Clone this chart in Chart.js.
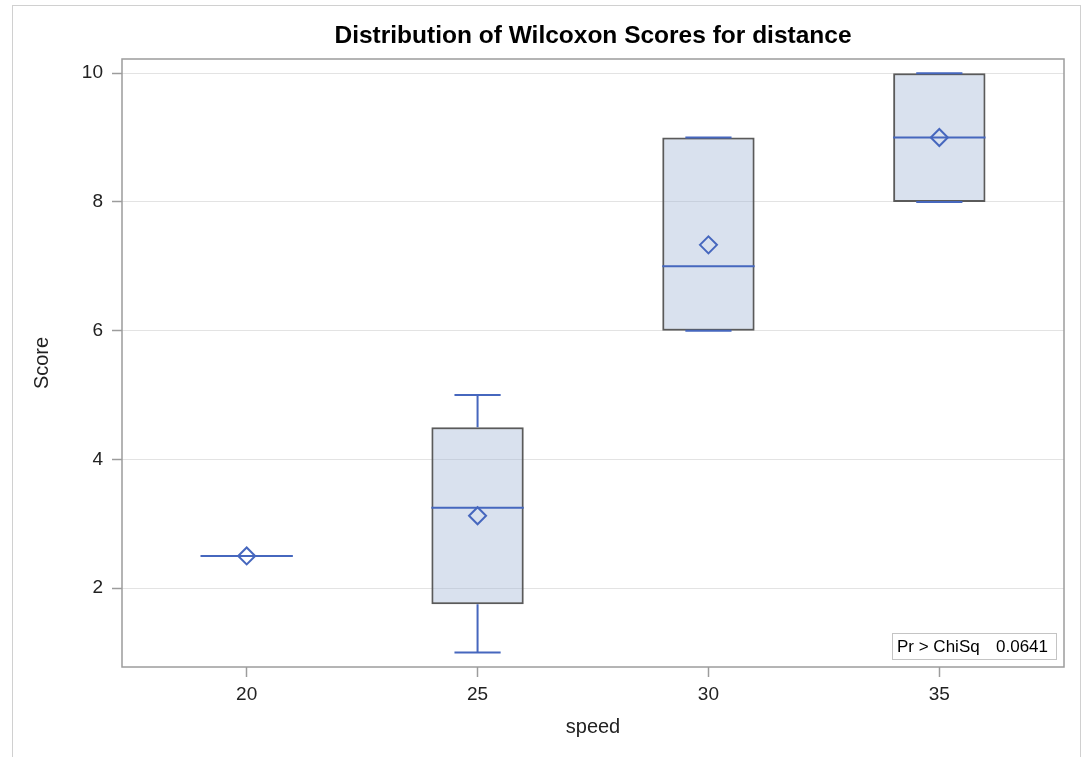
<!DOCTYPE html>
<html>
<head>
<meta charset="utf-8">
<script src="https://cdn.jsdelivr.net/npm/chart.js@4"></script>
<style>
  html, body { margin: 0; padding: 0; background: #fff; }
  #wrap { width: 1084px; height: 757px; position: relative; }
</style>
</head>
<body>
<div id="wrap"><canvas id="chart"></canvas></div>
<script>
// Wilcoxon scores per speed group
const speeds = [20, 25, 30, 35];
const q1 = [2.5, 1.75, 6, 8];
const q3 = [2.5, 4.5, 9, 10];
const medians = [2.5, 3.25, 7, 9];
const means = [2.5, 3.125, 7.333, 9];
const whiskerLow = [2.5, 1, 6, 8];
const whiskerHigh = [2.5, 5, 9, 10];

const xTicks = [20, 25, 30, 35];
const yTicks = [2, 4, 6, 8, 10];

const titleText = 'Distribution of Wilcoxon Scores for distance';
const insetLabel = 'Pr > ChiSq';
const insetValue = '0.0641';

const FONT = '"Liberation Sans", Arial, sans-serif';
const BLUE = '#4667be';
const BOX_HALF = 1;   // half box width in x units
const CAP_HALF = 0.5; // half whisker cap width

// build line segments (null points break the line)
const medianPts = [];
const whiskerPts = [];
const capPts = [];
speeds.forEach((s, i) => {
  medianPts.push({ x: s - BOX_HALF, y: medians[i] }, { x: s + BOX_HALF, y: medians[i] }, { x: s, y: null });
  whiskerPts.push({ x: s, y: q3[i] }, { x: s, y: whiskerHigh[i] }, { x: s, y: null });
  whiskerPts.push({ x: s, y: q1[i] }, { x: s, y: whiskerLow[i] }, { x: s, y: null });
  capPts.push({ x: s - CAP_HALF, y: whiskerHigh[i] }, { x: s + CAP_HALF, y: whiskerHigh[i] }, { x: s, y: null });
  capPts.push({ x: s - CAP_HALF, y: whiskerLow[i] }, { x: s + CAP_HALF, y: whiskerLow[i] }, { x: s, y: null });
});

const decorPlugin = {
  id: 'decor',
  afterDraw(chart) {
    const { ctx, chartArea: a } = chart;
    ctx.save();
    // outer page border
    ctx.strokeStyle = '#d0d0d0';
    ctx.lineWidth = 1;
    ctx.strokeRect(12.5, 5.5, 1068, 800);
    // plot frame
    ctx.strokeStyle = '#9c9c9c';
    ctx.lineWidth = 1.5;
    ctx.strokeRect(a.left, a.top, a.right - a.left, a.bottom - a.top);
    // title
    ctx.fillStyle = '#000';
    ctx.font = 'bold 24.5px ' + FONT;
    ctx.textAlign = 'center';
    ctx.textBaseline = 'middle';
    ctx.fillText(titleText, (a.left + a.right) / 2, 36);
    // inset statistic box
    ctx.fillStyle = '#fff';
    ctx.fillRect(892.5, 633.5, 164, 26);
    ctx.strokeStyle = '#c4c4c4';
    ctx.lineWidth = 1;
    ctx.strokeRect(892.5, 633.5, 164, 26);
    ctx.fillStyle = '#000';
    ctx.font = '17px ' + FONT;
    ctx.textAlign = 'left';
    ctx.fillText(insetLabel, 897, 647);
    ctx.textAlign = 'right';
    ctx.fillText(insetValue, 1048, 647);
    ctx.restore();
  }
};

new Chart(document.getElementById('chart'), {
  type: 'bar',
  data: {
    datasets: [
      {
        type: 'line',
        label: 'Mean',
        data: speeds.map((s, i) => ({ x: s, y: means[i] })),
        showLine: false,
        pointStyle: 'rectRot',
        pointRadius: 8.5,
        pointHoverRadius: 8.5,
        pointBorderWidth: 2,
        pointBorderColor: BLUE,
        pointBackgroundColor: 'rgba(0,0,0,0)',
        order: 0
      },
      {
        type: 'line',
        label: 'Median',
        data: medianPts,
        borderColor: BLUE,
        borderWidth: 2,
        pointRadius: 0,
        spanGaps: false,
        order: 1
      },
      {
        type: 'line',
        label: 'Whiskers',
        data: whiskerPts,
        borderColor: BLUE,
        borderWidth: 2,
        pointRadius: 0,
        spanGaps: false,
        order: 1
      },
      {
        type: 'line',
        label: 'Caps',
        data: capPts,
        borderColor: BLUE,
        borderWidth: 2,
        pointRadius: 0,
        spanGaps: false,
        order: 1
      },
      {
        label: 'Box',
        data: speeds.map((s, i) => ({ x: s, y: [q1[i], q3[i]] })),
        backgroundColor: 'rgba(160,180,212,0.4)',
        borderColor: '#5a5a5a',
        borderWidth: 2,
        borderSkipped: false,
        categoryPercentage: 1,
        barPercentage: 0.4,
        order: 2
      }
    ]
  },
  options: {
    responsive: true,
    maintainAspectRatio: false,
    animation: false,
    layout: { padding: { top: 59, left: 30, right: 20, bottom: 18 } },
    plugins: {
      legend: { display: false },
      title: { display: false },
      tooltip: { enabled: false }
    },
    scales: {
      x: {
        type: 'linear',
        min: 17.3,
        max: 37.7,
        offset: false,
        afterBuildTicks: (scale) => { scale.ticks = xTicks.map(v => ({ value: v })); },
        afterFit: (scale) => { scale.height = 72; },
        grid: { offset: false, drawOnChartArea: false, drawTicks: true, tickLength: 10, tickColor: '#9c9c9c', tickWidth: 1.5 },
        border: { display: false },
        ticks: { color: '#222', font: { family: FONT, size: 19 }, padding: 6, maxRotation: 0 },
        title: { display: true, text: 'speed', color: '#222', font: { family: FONT, size: 20 }, padding: 0 }
      },
      y: {
        type: 'linear',
        min: 0.775,
        max: 10.22,
        afterBuildTicks: (scale) => { scale.ticks = yTicks.map(v => ({ value: v })); },
        afterFit: (scale) => { scale.width = 92; },
        grid: { color: '#e3e3e3', lineWidth: 1, drawTicks: true, tickLength: 10, tickColor: '#9c9c9c', tickWidth: 1.5 },
        border: { display: false },
        ticks: { color: '#222', font: { family: FONT, size: 19 }, padding: 9 },
        title: { display: true, text: 'Score', color: '#222', font: { family: FONT, size: 20 }, padding: 0 }
      }
    }
  },
  plugins: [decorPlugin]
});
</script>
</body>
</html>
